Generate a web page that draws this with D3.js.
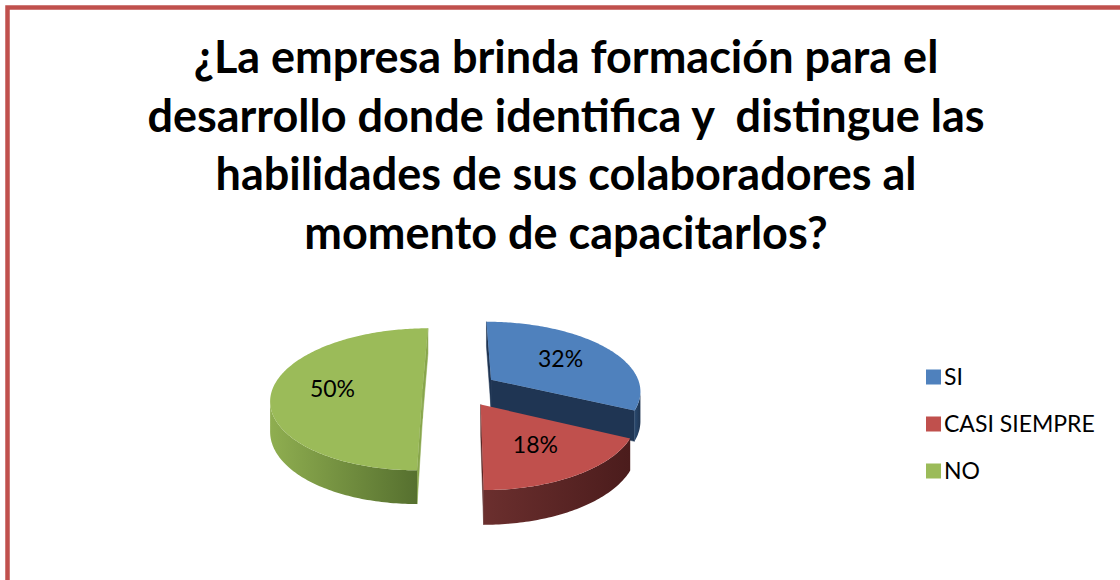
<!DOCTYPE html>
<html>
<head>
<meta charset="utf-8">
<script src="https://cdn.jsdelivr.net/npm/d3@7"></script>
<style>
  body { margin: 0; background: #fff; }
  svg { display: block; }
  text { font-family: Lato, "Open Sans", sans-serif; }
</style>
</head>
<body>
<script>
// data
var categories = ['SI', 'CASI SIEMPRE', 'NO'];
var values = [32, 18, 50];
var labels = ['32%', '18%', '50%'];
var titleLines = [
	'¿La empresa brinda formación para el',
	'desarrollo donde identifica y  distingue las',
	'habilidades de sus colaboradores al',
	'momento de capacitarlos?'
];

// colors
var topColor = ['#4F81BD', '#C0504D', '#9BBB59'];
var sideColor = [
	['#2a4a70', '#1f3552'],
	['#6b2f2e', '#4b1c1c'],
	['#8fae50', '#56702f']
];
var cutColor = ['#1f3553', '#5a2625', '#88a64c'];

var width = 1120, height = 580;

// pseudo 3d pie settings
var CX = 460, CY = 389, R = 150, K = 71, P = 0.145, E = 0.25, D = 29.5;

function proj(u, w, bottom) {
	var s = 1 + P * w;
	return [CX + R * u * s, CY + (K * w + (bottom ? D : 0)) * s];
}

function area(pts) {
	var a = 0;
	for (var i = 0; i < pts.length; i++) {
		var p = pts[i], q = pts[(i + 1) % pts.length];
		a += p[0] * q[1] - q[0] * p[1];
	}
	return a / 2;
}

var svg = d3.select('body').append('svg')
	.attr('width', width)
	.attr('height', height);

var defs = svg.append('defs');

// border (right and bottom fall outside the picture)
svg.append('rect')
	.attr('x', 7.5).attr('y', 7.5)
	.attr('width', 1300).attr('height', 800)
	.style('fill', 'none')
	.style('stroke', '#C0504D')
	.style('stroke-width', 4.5);

// title
svg.append('text')
	.attr('text-anchor', 'middle')
	.style('font-size', '45px')
	.style('font-weight', 'bold')
	.style('white-space', 'pre')
	.selectAll('tspan')
	.data(titleLines)
	.enter().append('tspan')
	.attr('x', 566)
	.attr('y', function(d, i) { return 73 + i * 58.5; })
	.text(function(d) { return d; });

// pie
var arcs = d3.pie().sort(null).value(function(d) { return d; })(values);

var slices = arcs.map(function(a, i) {
	var mid = (a.startAngle + a.endAngle) / 2;
	return {
		i: i,
		a0: a.startAngle,
		a1: a.endAngle,
		mid: mid,
		ou: E * Math.sin(mid),
		ow: -E * Math.cos(mid)
	};
});

// back to front
slices.sort(function(a, b) { return a.ow - b.ow; });

var line = d3.line();
var pieG = svg.append('g');

slices.forEach(function(sl) {
	var g = pieG.append('g');
	function pt(t, r, bottom) {
		return proj(sl.ou + r * Math.sin(t), sl.ow - r * Math.cos(t), bottom);
	}
	var n = Math.max(2, Math.ceil((sl.a1 - sl.a0) / (Math.PI / 180)));
	var ts = d3.range(n + 1).map(function(k) { return sl.a0 + (sl.a1 - sl.a0) * k / n; });

	var grad = defs.append('linearGradient')
		.attr('id', 'side' + sl.i)
		.attr('x1', 0).attr('x2', 1).attr('y1', 0).attr('y2', 0);
	grad.append('stop').attr('offset', 0).attr('stop-color', sideColor[sl.i][0]);
	grad.append('stop').attr('offset', 1).attr('stop-color', sideColor[sl.i][1]);

	// cut faces
	var apexT = pt(0, 0, false), apexB = pt(0, 0, true);
	var cuts = [
		[apexT, apexB, pt(sl.a0, 1, true), pt(sl.a0, 1, false)],
		[apexT, pt(sl.a1, 1, false), pt(sl.a1, 1, true), apexB]
	];
	cuts.forEach(function(f) {
		if (area(f) > 0) {
			g.append('path')
				.attr('d', line(f) + 'Z')
				.style('fill', cutColor[sl.i])
				.style('stroke', cutColor[sl.i])
				.style('stroke-width', 0.5);
		}
	});

	// outer wall, only the runs facing us
	var runs = [], cur = null;
	for (var k = 0; k < n; k++) {
		var q = [pt(ts[k + 1], 1, false), pt(ts[k], 1, false), pt(ts[k], 1, true), pt(ts[k + 1], 1, true)];
		if (area(q) > 0) {
			if (!cur) { cur = [k, k + 1]; runs.push(cur); }
			else cur[1] = k + 1;
		} else cur = null;
	}
	runs.forEach(function(rn) {
		var sub = ts.slice(rn[0], rn[1] + 1);
		var ptsW = sub.map(function(t) { return pt(t, 1, false); })
			.concat(sub.slice().reverse().map(function(t) { return pt(t, 1, true); }));
		g.append('path')
			.attr('d', line(ptsW) + 'Z')
			.style('fill', 'url(#side' + sl.i + ')');
	});

	// top face
	var topPts = [apexT].concat(ts.map(function(t) { return pt(t, 1, false); }));
	g.append('path')
		.attr('d', line(topPts) + 'Z')
		.style('fill', topColor[sl.i]);

	// label
	var lp = pt(sl.mid, 0.6, false);
	g.append('text')
		.attr('x', lp[0])
		.attr('y', lp[1])
		.attr('dy', '.35em')
		.attr('text-anchor', 'middle')
		.style('font-size', '23px')
		.style('fill', '#000')
		.text(labels[sl.i]);
});

// legend
var legend = svg.append('g')
	.attr('transform', 'translate(926,377)');

var item = legend.selectAll('.item')
	.data(categories)
	.enter().append('g')
	.attr('class', 'item')
	.attr('transform', function(d, i) { return 'translate(0,' + i * 47 + ')'; });

item.append('rect')
	.attr('x', 0).attr('y', -7.5)
	.attr('width', 15).attr('height', 15)
	.style('fill', function(d, i) { return topColor[i]; });

item.append('text')
	.attr('x', 18)
	.attr('dy', '.35em')
	.style('font-size', '23px')
	.text(function(d) { return d; });
</script>
</body>
</html>
